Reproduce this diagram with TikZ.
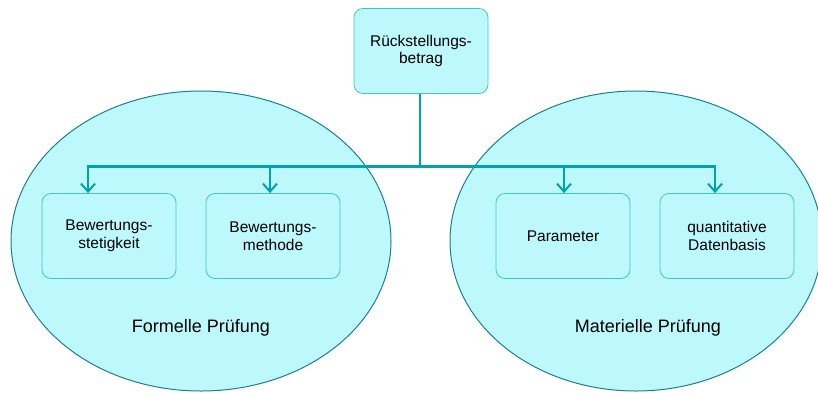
\documentclass[tikz,border=0pt]{standalone}
\usepackage{fontspec}
\setmainfont{Liberation Sans}
\usetikzlibrary{shapes.geometric,arrows.meta}
\definecolor{fillc}{HTML}{BDF8FD}
\definecolor{ellc}{HTML}{1C808B}
\definecolor{boxc}{HTML}{45C3CB}
\definecolor{conc}{HTML}{00A2AC}
\tikzset{
  region/.style={ellipse, draw=ellc, line width=1pt, fill=fillc, inner sep=0pt},
  itembox/.style={draw=boxc, line width=0.8pt, fill=fillc, rounded corners=9pt,
    minimum width=134pt, minimum height=85pt, inner sep=0pt, align=center,
    font=\fontsize{15.5}{17.5}\selectfont},
  regionlabel/.style={font=\fontsize{18}{21}\selectfont},
  conn/.style={draw=conc, line width=2.6pt},
  arr/.style={conn, -{Straight Barb[length=8pt,width=14pt,line width=2pt]}, shorten >=0pt}
}
\begin{document}
\begin{tikzpicture}[x=1pt,y=-1pt]
\useasboundingbox (0,0) rectangle (818,392);
\node[region, minimum width=380pt, minimum height=300pt] (L) at (201,241) {};
\node[region, minimum width=372pt, minimum height=300pt] (R) at (636,241) {};
\node[itembox] (top) at (421,51) {Rückstellungs-\\betrag};
\node[itembox] (b1) at (109,236) {Bewertungs-\\stetigkeit};
\node[itembox] (b2) at (273,236) {Bewertungs-\\methode};
\node[itembox] (b3) at (563,236) {Parameter};
\node[itembox] (b4) at (727,236) {quantitative\\Datenbasis};
\node[regionlabel] (lL) at (201,328) {Formelle Prüfung};
\node[regionlabel] (lR) at (648,328) {Materielle Prüfung};
\coordinate (hub) at (420,166.5);
\coordinate (h1) at (88,166.5);
\coordinate (h2) at (270,166.5);
\coordinate (h3) at (564,166.5);
\coordinate (h4) at (715,166.5);
\draw[conn] (top.south -| hub) -- (hub);
\draw[conn] ([xshift=-1.3pt]h1) -- ([xshift=1.3pt]h4);
\draw[arr] (h1) -- (h1 |- b1.north);
\draw[arr] (h2) -- (h2 |- b2.north);
\draw[arr] (h3) -- (h3 |- b3.north);
\draw[arr] (h4) -- (h4 |- b4.north);
\end{tikzpicture}
\end{document}
